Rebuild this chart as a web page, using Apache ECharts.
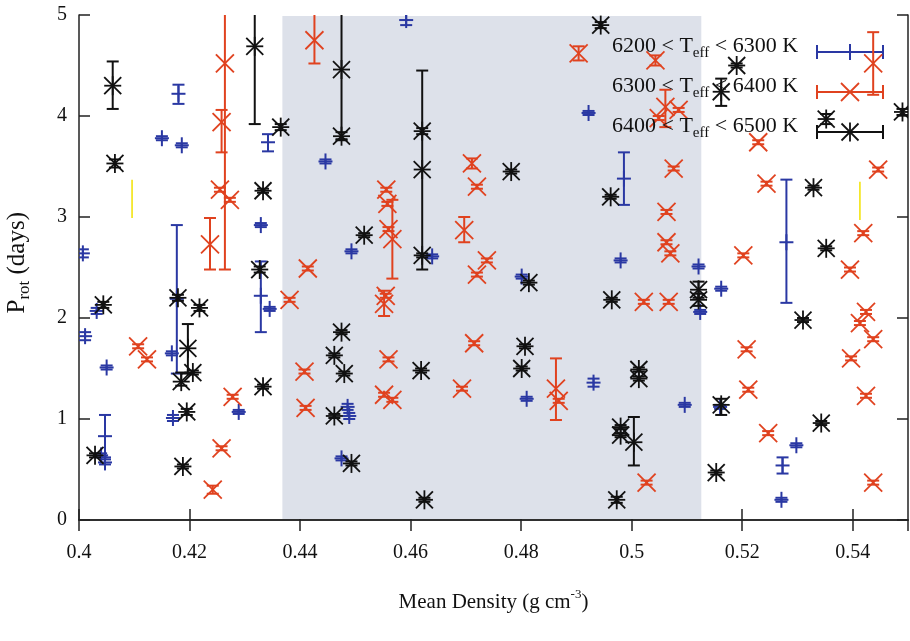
<!DOCTYPE html>
<html><head><meta charset="utf-8">
<script src="https://cdn.jsdelivr.net/npm/echarts@6/dist/echarts.min.js"></script>
<style>html,body{margin:0;padding:0;background:#fff}#c{width:910px;height:641px}</style>
</head><body><div id="c"></div>
<script>
// [mean density, Prot, error-bar low end, error-bar high end]
const teff6200 = [
  [0.4007,2.64,2.60,2.68],[0.4011,1.82,1.78,1.86],[0.4032,2.07,2.04,2.10],[0.4050,1.51,1.49,1.53],
  [0.4047,0.83,0.62,1.04],[0.4047,0.57,0.55,0.60],[0.4040,0.64,0.62,0.66],[0.4180,4.22,4.12,4.31],
  [0.4150,3.78,3.76,3.80],[0.4186,3.71,3.69,3.73],[0.4177,2.19,1.45,2.92],[0.4168,1.65,1.63,1.67],
  [0.4170,1.01,0.98,1.04],[0.4289,1.07,1.05,1.09],[0.4342,3.74,3.65,3.82],[0.4329,2.92,2.90,2.94],
  [0.4329,2.22,1.86,2.56],[0.4345,2.09,2.07,2.11],[0.4446,3.55,3.53,3.57],[0.4592,4.95,4.90,5.05],
  [0.4493,2.66,2.64,2.68],[0.4639,2.61,2.59,2.63],[0.4486,1.12,1.09,1.15],[0.4489,1.03,1.00,1.06],
  [0.4475,0.61,0.59,0.63],[0.4801,2.41,2.39,2.43],[0.4810,1.20,1.18,1.22],[0.4931,1.36,1.32,1.40],
  [0.4922,4.03,4.01,4.05],[0.4986,3.38,3.12,3.64],[0.4980,2.57,2.55,2.59],[0.5121,2.51,2.49,2.53],
  [0.5124,2.06,2.04,2.08],[0.5162,2.29,2.27,2.31],[0.5096,1.14,1.12,1.16],[0.5160,1.12,1.10,1.14],
  [0.5280,2.75,2.15,3.37],[0.5298,0.74,0.72,0.76],[0.5273,0.54,0.46,0.62],[0.5271,0.20,0.18,0.22]
];
const teff6300 = [
  [0.4264,4.52,2.48,6.56],[0.4258,3.94,3.64,4.06],[0.4255,3.27,3.25,3.29],[0.4273,3.17,3.15,3.19],
  [0.4237,2.73,2.48,2.99],[0.4107,1.72,1.70,1.74],[0.4123,1.59,1.57,1.61],[0.4278,1.22,1.20,1.24],
  [0.4258,0.71,0.69,0.73],[0.4242,0.30,0.26,0.34],[0.4381,2.18,2.16,2.20],[0.4426,4.75,4.52,5.05],
  [0.4414,2.49,2.47,2.51],[0.4408,1.47,1.45,1.49],[0.4410,1.11,1.09,1.13],[0.4556,3.27,3.25,3.29],
  [0.4558,3.13,3.11,3.15],[0.4567,2.78,2.39,3.17],[0.4560,2.88,2.86,2.90],[0.4555,2.22,2.20,2.24],
  [0.4552,2.14,2.02,2.27],[0.4560,1.59,1.57,1.61],[0.4552,1.24,1.22,1.26],[0.4567,1.19,1.17,1.21],
  [0.4711,3.53,3.48,3.58],[0.4720,3.30,3.28,3.32],[0.4697,2.87,2.75,3.00],[0.4738,2.57,2.55,2.59],
  [0.4720,2.43,2.41,2.45],[0.4715,1.75,1.73,1.77],[0.4693,1.30,1.28,1.32],[0.4863,1.30,0.99,1.60],
  [0.4868,1.18,1.16,1.20],[0.4904,4.62,4.55,4.69],[0.5043,4.55,4.50,4.60],[0.5061,4.09,3.89,4.26],
  [0.5049,3.98,3.96,4.00],[0.5085,4.06,4.04,4.08],[0.5076,3.48,3.46,3.50],[0.5063,3.05,3.03,3.07],
  [0.5063,2.75,2.73,2.77],[0.5070,2.64,2.62,2.66],[0.5022,2.16,2.14,2.18],[0.5067,2.16,2.14,2.18],
  [0.5027,0.37,0.35,0.39],[0.5229,3.74,3.72,3.76],[0.5244,3.33,3.31,3.35],[0.5202,2.62,2.60,2.64],
  [0.5208,1.69,1.67,1.71],[0.5211,1.29,1.27,1.31],[0.5247,0.86,0.84,0.88],[0.5437,4.52,4.21,4.83],
  [0.5446,3.47,3.45,3.49],[0.5419,2.84,2.82,2.86],[0.5395,2.48,2.46,2.50],[0.5424,2.06,2.04,2.08],
  [0.5413,1.95,1.93,1.97],[0.5437,1.79,1.77,1.81],[0.5397,1.60,1.58,1.62],[0.5424,1.23,1.21,1.25],
  [0.5437,0.37,0.35,0.39]
];
const teff6400 = [
  [0.4061,4.30,4.07,4.54],[0.4065,3.53,3.49,3.57],[0.4044,2.13,2.10,2.16],[0.4029,0.64,0.62,0.66],
  [0.4179,2.20,2.17,2.23],[0.4218,2.10,2.07,2.13],[0.4197,1.70,1.45,1.94],[0.4185,1.37,1.33,1.46],
  [0.4206,1.46,1.44,1.48],[0.4195,1.07,1.04,1.10],[0.4188,0.53,0.51,0.55],[0.4318,4.69,3.92,5.46],
  [0.4365,3.89,3.86,3.92],[0.4333,3.26,3.24,3.28],[0.4327,2.48,2.45,2.51],[0.4333,1.32,1.30,1.34],
  [0.4475,4.46,3.77,5.15],[0.4475,3.80,3.76,3.84],[0.4621,3.85,3.82,3.88],[0.4621,3.47,2.48,4.45],
  [0.4621,2.62,2.60,2.64],[0.4516,2.82,2.80,2.84],[0.4782,3.45,3.43,3.47],[0.4814,2.35,2.33,2.37],
  [0.4475,1.86,1.84,1.88],[0.4462,1.63,1.61,1.65],[0.4480,1.45,1.43,1.47],[0.4462,1.03,1.01,1.05],
  [0.4493,0.56,0.54,0.58],[0.4619,1.48,1.46,1.50],[0.4625,0.20,0.18,0.22],[0.4807,1.72,1.70,1.74],
  [0.4801,1.50,1.48,1.52],[0.4944,4.90,4.87,4.93],[0.5190,4.50,4.48,4.52],[0.5162,4.24,4.10,4.37],
  [0.5352,3.97,3.92,4.02],[0.5490,4.04,4.01,4.07],[0.4962,3.20,3.18,3.22],[0.5329,3.29,3.27,3.31],
  [0.5352,2.69,2.67,2.71],[0.4964,2.18,2.16,2.20],[0.5121,2.28,2.20,2.36],[0.5121,2.18,2.12,2.24],
  [0.5310,1.98,1.96,2.00],[0.5013,1.49,1.47,1.51],[0.5013,1.40,1.38,1.42],[0.4980,0.92,0.90,0.94],
  [0.4980,0.84,0.82,0.86],[0.5004,0.77,0.54,1.02],[0.4973,0.20,0.17,0.23],[0.5153,0.47,0.45,0.49],
  [0.5162,1.14,1.04,1.20],[0.5343,0.96,0.94,0.98]
];
const yellowMarks = [[0.4096,2.99,3.37],[0.5413,2.97,3.35]];
const shadeRange = [[0.4368,0.5126]];
const legendLabels = [['6200 < T','eff',' < 6300 K'],['6300 < T','eff',' < 6400 K'],['6400 < T','eff',' < 6500 K']];

const BLUE = '#2a38a3', RED = '#e0421f', BLACK = '#111111';
const FONT = 'Liberation Serif';

function L(x1,y1,x2,y2,color,w){return {type:'line',shape:{x1,y1,x2,y2},style:{stroke:color,lineWidth:w}};}
function marker(kind,cx,cy,color){
  if(kind==='plus') return [L(cx-7,cy,cx+7,cy,color,2),L(cx,cy-8,cx,cy+8,color,2)];
  if(kind==='cross'){const h=9;return [L(cx-h,cy-h,cx+h,cy+h,color,1.8),L(cx-h,cy+h,cx+h,cy-h,color,1.8)];}
  const h=8.5;
  return [L(cx-h,cy-h,cx+h,cy+h,color,1.8),L(cx-h,cy+h,cx+h,cy-h,color,1.8),
          L(cx,cy-h-1,cx,cy+h+1,color,1.8),L(cx-h,cy,cx+h,cy,color,1.8)];
}
function errSeries(name,data,kind,color,z){
  return {type:'custom',name,data,clip:true,z,xAxisIndex:0,yAxisIndex:0,encode:{x:0,y:1},
    renderItem:function(params,api){
      const x=api.value(0),y=api.value(1),lo=api.value(2),hi=api.value(3);
      const p=api.coord([x,y]),pl=api.coord([x,lo]),ph=api.coord([x,hi]);
      const c=6;
      const ch=[L(p[0],pl[1],p[0],ph[1],color,2),L(p[0]-c,pl[1],p[0]+c,pl[1],color,2),L(p[0]-c,ph[1],p[0]+c,ph[1],color,2)];
      return {type:'group',children:ch.concat(marker(kind,p[0],p[1],color))};
    }};
}

const chart = echarts.init(document.getElementById('c'),null,{renderer:'canvas'});
const axisLineStyle={color:'#222',width:1.5};
const lab = {fontFamily:FONT,fontSize:20,color:'#111'};

// legend graphics
const legendG=[];
const legCols=[BLUE,RED,BLACK], legKinds=['plus','cross','star'], legY=[50,90,130];
legendLabels.forEach((t,i)=>{
  legendG.push({type:'text',left:612,top:legY[i]-15,style:{
    text:'{n|'+t[0]+'}{s|'+t[1]+'}{n|'+t[2]+'}',
    rich:{n:{fontFamily:FONT,fontSize:22,lineHeight:30,fill:'#111',verticalAlign:'middle'},
          s:{fontFamily:FONT,fontSize:15,lineHeight:15,fill:'#111',verticalAlign:'bottom'}}},z:20});
  const y=legY[i]+2, c=legCols[i];
  legendG.push({type:'group',z:20,children:[L(817,y,883,y,c,2),L(817,y-7,817,y+7,c,2),L(883,y-7,883,y+7,c,2)].concat(marker(legKinds[i],850,y,c))});
});
legendG.push({type:'text',left:5,top:212,rotation:Math.PI/2,style:{
  text:'{n|P}{s|rot}{n| (days)}',
  rich:{n:{fontFamily:FONT,fontSize:25,lineHeight:32,fill:'#111',verticalAlign:'middle'},
        s:{fontFamily:FONT,fontSize:17,lineHeight:17,fill:'#111',verticalAlign:'bottom'}}}});

const option={
  animation:false,
  backgroundColor:'#fff',
  grid:{left:79,right:2,top:15,bottom:121,containLabel:false},
  xAxis:[
    {type:'value',min:0.4,max:0.55,interval:0.02,position:'bottom',
     name:'{n|Mean Density (g cm}{p|-3}{n|)}',nameLocation:'middle',nameGap:68,
     nameTextStyle:{rich:{n:{fontFamily:FONT,fontSize:21,color:'#111',lineHeight:28,verticalAlign:'middle'},
                          p:{fontFamily:FONT,fontSize:13,color:'#111',lineHeight:13,verticalAlign:'top'}}},
     axisLine:{show:true,lineStyle:axisLineStyle},axisTick:{show:true,inside:true,length:11,lineStyle:{color:'#222',width:1.5}},
     axisLabel:Object.assign({margin:23,showMaxLabel:false,formatter:v=>{const k=v*50;return Math.abs(k-Math.round(k))<1e-6?String(+v.toFixed(2)):'';}},lab),
     splitLine:{show:false}},
    {type:'value',min:0.4,max:0.55,interval:0.02,position:'top',
     axisLine:{show:true,lineStyle:axisLineStyle},axisTick:{show:true,inside:true,length:11,lineStyle:{color:'#222',width:1.5}},
     axisLabel:{show:false},splitLine:{show:false}}
  ],
  yAxis:[
    {type:'value',min:0,max:5,interval:1,position:'left',
     axisLine:{show:true,lineStyle:axisLineStyle},axisTick:{show:true,inside:true,length:11,lineStyle:{color:'#222',width:1.5}},
     axisLabel:Object.assign({margin:12},lab),splitLine:{show:false}},
    {type:'value',min:0,max:5,interval:1,position:'right',
     axisLine:{show:true,lineStyle:axisLineStyle},axisTick:{show:true,inside:true,length:11,lineStyle:{color:'#222',width:1.5}},
     axisLabel:{show:false},splitLine:{show:false}}
  ],
  graphic:legendG,
  series:[
    {type:'custom',name:'shade',data:shadeRange,z:1,xAxisIndex:0,yAxisIndex:0,encode:{x:[0,1]},
     renderItem:function(params,api){
       const a=api.coord([api.value(0),5]),b=api.coord([api.value(1),0]);
       return {type:'rect',shape:{x:a[0],y:a[1]+1,width:b[0]-a[0],height:b[1]-a[1]-2},style:{fill:'#dde1ea'}};
     }},
    {type:'custom',name:'yellow',data:yellowMarks,z:2,xAxisIndex:0,yAxisIndex:0,encode:{x:0,y:[1,2]},
     renderItem:function(params,api){
       const a=api.coord([api.value(0),api.value(1)]),b=api.coord([api.value(0),api.value(2)]);
       return L(a[0],a[1],b[0],b[1],'#f2e200',1.5);
     }},
    errSeries('6200 < Teff < 6300 K',teff6200,'plus',BLUE,3),
    errSeries('6300 < Teff < 6400 K',teff6300,'cross',RED,4),
    errSeries('6400 < Teff < 6500 K',teff6400,'star',BLACK,5)
  ]
};
chart.setOption(option);
</script></body></html>
